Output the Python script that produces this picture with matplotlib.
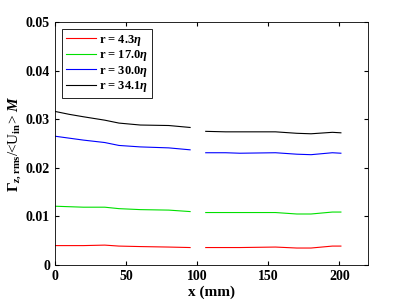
import numpy as np
import matplotlib.pyplot as plt

plt.rcParams['font.family'] = 'Liberation Serif'
plt.rcParams['font.weight'] = 'bold'
plt.rcParams['mathtext.fontset'] = 'custom'
plt.rcParams['mathtext.rm'] = 'Liberation Serif:bold'
plt.rcParams['mathtext.it'] = 'Liberation Serif:italic:bold'
plt.rcParams['mathtext.bf'] = 'Liberation Serif:bold'

x1 = [0, 10, 20, 35, 45, 60, 80, 95]
x2 = [106, 120, 130, 155, 170, 180, 195, 201]

r43_a = [0.0040, 0.0040, 0.0040, 0.0041, 0.0039, 0.0038, 0.0037, 0.0036]
r43_b = [0.0036, 0.0036, 0.0036, 0.0037, 0.0035, 0.0035, 0.0039, 0.0039]
r170_a = [0.0121, 0.0120, 0.0119, 0.0119, 0.0116, 0.0114, 0.0113, 0.0110]
r170_b = [0.0108, 0.0108, 0.0108, 0.0108, 0.0105, 0.0105, 0.0109, 0.0109]
r300_a = [0.0265, 0.0261, 0.0257, 0.0252, 0.0246, 0.0243, 0.0241, 0.0237]
r300_b = [0.0231, 0.0231, 0.0230, 0.0231, 0.0228, 0.0227, 0.0231, 0.0230]
r341_a = [0.0316, 0.0310, 0.0305, 0.0298, 0.0292, 0.0288, 0.0287, 0.0283]
r341_b = [0.0275, 0.0274, 0.0274, 0.0274, 0.0271, 0.0270, 0.0273, 0.0272]

labels = [r'r = 4.3$\mathit{\eta}$', r'r = 17.0$\mathit{\eta}$',
          r'r = 30.0$\mathit{\eta}$', r'r = 34.1$\mathit{\eta}$']
colors = ['red', '#00e000', 'blue', 'black']
series = [(r43_a, r43_b), (r170_a, r170_b), (r300_a, r300_b), (r341_a, r341_b)]

fig = plt.figure(figsize=(4.07, 3.05), dpi=100)
ax = fig.add_axes([0.135, 0.131, 0.769, 0.797])

for (a, b), c, lab in zip(series, colors, labels):
    ax.plot(x1, a, color=c, lw=0.8, label=lab)
    ax.plot(x2, b, color=c, lw=0.8)

ax.set_xlim(0, 220)
ax.set_ylim(0, 0.05)
ax.set_xticks([0, 50, 100, 150, 200])
ax.set_yticks([0, 0.01, 0.02, 0.03, 0.04, 0.05])
ax.set_yticklabels(['0', '0.01', '0.02', '0.03', '0.04', '0.05'])
ax.tick_params(direction='in', top=True, right=True, labelsize=10, length=3)
for s in ax.spines.values():
    s.set_linewidth(0.6)

ax.set_xlabel('x (mm)', fontsize=11, fontweight='bold', labelpad=2)
ax.set_ylabel(r'$\Gamma_{\mathit{z},\mathrm{rms}}$/<U$_{\mathrm{in}}$> $\mathit{M}$',
              fontsize=11, labelpad=2)

leg = ax.legend(loc='upper left', fontsize=9, fancybox=False, edgecolor='black',
                framealpha=1, handlelength=2.4, handletextpad=0.3,
                borderpad=0.25, labelspacing=0.05, borderaxespad=0.6)
leg.get_frame().set_linewidth(0.6)

fig.savefig('out.png', dpi=100)
